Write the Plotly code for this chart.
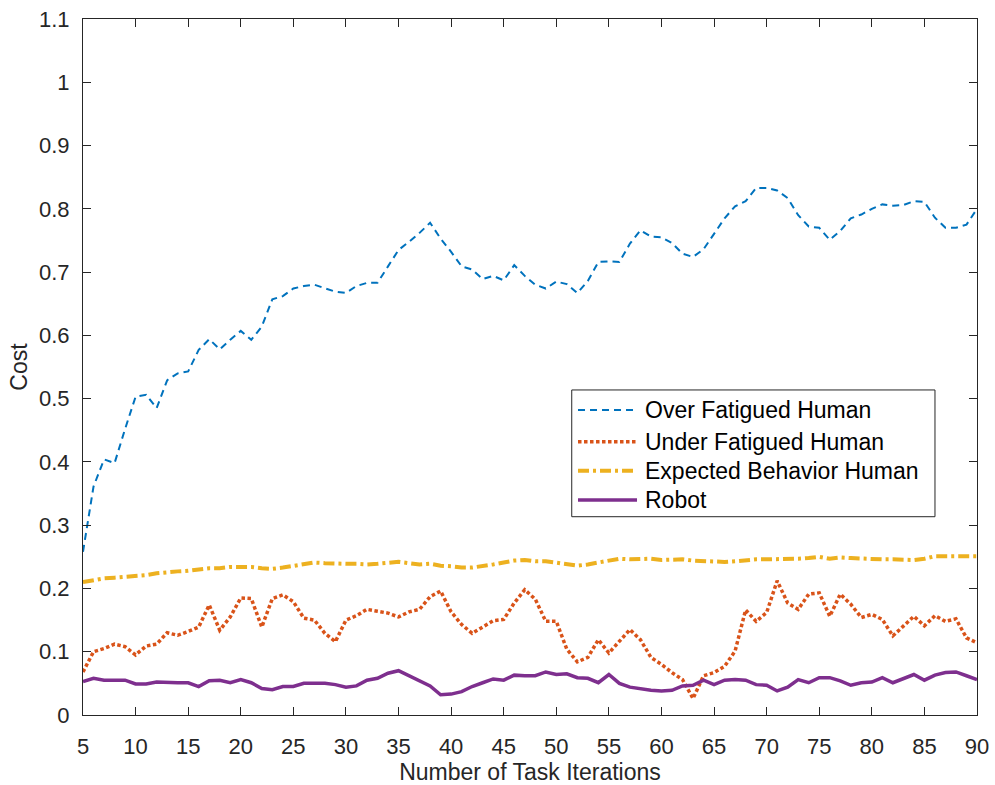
import plotly.graph_objects as go

iterations = list(range(5, 91))

over_fatigued = [
    0.258, 0.361, 0.404, 0.398, 0.452, 0.503, 0.506, 0.485, 0.529, 0.540,
    0.543, 0.577, 0.594, 0.578, 0.593, 0.607, 0.593, 0.614, 0.657, 0.662,
    0.674, 0.678, 0.680, 0.675, 0.669, 0.667, 0.678, 0.683, 0.683, 0.709,
    0.735, 0.748, 0.762, 0.778, 0.753, 0.732, 0.709, 0.704, 0.689, 0.694,
    0.687, 0.711, 0.694, 0.680, 0.674, 0.685, 0.681, 0.667, 0.686, 0.716,
    0.717, 0.716, 0.745, 0.766, 0.756, 0.755, 0.746, 0.729, 0.724, 0.736,
    0.761, 0.785, 0.804, 0.812, 0.833, 0.833, 0.829, 0.817, 0.790, 0.772,
    0.770, 0.751, 0.765, 0.785, 0.791, 0.800, 0.807, 0.805, 0.806, 0.812,
    0.811, 0.786, 0.770, 0.770, 0.775, 0.800,
]

under_fatigued = [
    0.068, 0.100, 0.105, 0.112, 0.108, 0.095, 0.109, 0.112, 0.130, 0.126,
    0.132, 0.139, 0.174, 0.134, 0.155, 0.185, 0.184, 0.139, 0.184, 0.190,
    0.179, 0.153, 0.150, 0.129, 0.116, 0.150, 0.157, 0.167, 0.164, 0.161,
    0.155, 0.163, 0.167, 0.187, 0.196, 0.163, 0.143, 0.129, 0.139, 0.149,
    0.151, 0.177, 0.198, 0.183, 0.148, 0.148, 0.104, 0.084, 0.091, 0.119,
    0.098, 0.117, 0.135, 0.119, 0.091, 0.080, 0.067, 0.056, 0.026, 0.062,
    0.067, 0.077, 0.101, 0.166, 0.148, 0.162, 0.212, 0.177, 0.167, 0.191,
    0.193, 0.156, 0.191, 0.175, 0.154, 0.159, 0.151, 0.125, 0.141, 0.156,
    0.141, 0.157, 0.148, 0.152, 0.122, 0.114,
]

expected_behavior = [
    0.210, 0.213, 0.216, 0.217, 0.218, 0.219, 0.221, 0.224, 0.226, 0.227,
    0.228, 0.230, 0.232, 0.232, 0.234, 0.234, 0.234, 0.232, 0.231, 0.233,
    0.236, 0.238, 0.241, 0.240, 0.239, 0.239, 0.239, 0.238, 0.239, 0.241,
    0.242, 0.240, 0.238, 0.239, 0.236, 0.235, 0.233, 0.233, 0.235, 0.238,
    0.241, 0.244, 0.245, 0.243, 0.243, 0.241, 0.238, 0.236, 0.238, 0.241,
    0.244, 0.247, 0.246, 0.247, 0.247, 0.245, 0.245, 0.246, 0.244, 0.243,
    0.242, 0.242, 0.243, 0.245, 0.246, 0.246, 0.246, 0.246, 0.247, 0.248,
    0.250, 0.247, 0.249, 0.248, 0.247, 0.246, 0.246, 0.246, 0.246, 0.245,
    0.247, 0.251, 0.251, 0.251, 0.251, 0.251,
]

robot = [
    0.053, 0.058, 0.055, 0.055, 0.055, 0.049, 0.049, 0.052, 0.051, 0.051,
    0.051, 0.045, 0.054, 0.055, 0.051, 0.056, 0.051, 0.042, 0.040, 0.045,
    0.045, 0.050, 0.050, 0.050, 0.048, 0.044, 0.046, 0.055, 0.058, 0.066,
    0.070, 0.062, 0.054, 0.046, 0.032, 0.033, 0.037, 0.045, 0.051, 0.057,
    0.055, 0.063, 0.062, 0.062, 0.068, 0.064, 0.065, 0.059, 0.058, 0.051,
    0.064, 0.050, 0.044, 0.041, 0.039, 0.038, 0.039, 0.046, 0.047, 0.055,
    0.048, 0.055, 0.056, 0.055, 0.048, 0.047, 0.038, 0.044, 0.056, 0.051,
    0.059, 0.059, 0.054, 0.047, 0.051, 0.052, 0.059, 0.051, 0.057, 0.064,
    0.055, 0.063, 0.067, 0.068, 0.062, 0.056,
]

x_ticks = list(range(5, 91, 5))
y_ticks = [round(0.1 * i, 1) for i in range(12)]
y_tick_labels = ["0", "0.1", "0.2", "0.3", "0.4", "0.5", "0.6", "0.7", "0.8", "0.9", "1", "1.1"]

series_names = ["Over Fatigued Human", "Under Fatigued Human", "Expected Behavior Human", "Robot"]
series_values = [over_fatigued, under_fatigued, expected_behavior, robot]
series_colors = ["#0072BD", "#D95319", "#EDB120", "#7E2F8E"]
series_widths = [2.0, 3.5, 4.0, 3.5]
series_dash = ["7px,5px", "3.5px,2.5px", "11px,4px,3px,4px", "solid"]

FONT = "Liberation Sans, Arial, Helvetica, sans-serif"
AX = "#262626"

fig = go.Figure()
for name, vals, col, w, d in zip(series_names, series_values, series_colors, series_widths, series_dash):
    fig.add_trace(go.Scatter(
        x=iterations, y=vals, mode="lines", name=name,
        line=dict(color=col, width=w, dash=d),
        showlegend=False,
    ))

# legend drawn as box + line samples + labels (paper coordinates)
legend_box = dict(x0=0.5467, x1=0.9530, y0=0.2849, y1=0.4670)
row_y = [0.4382, 0.3927, 0.3510, 0.3089]
sample_x = (0.5537, 0.6197)
text_x = 0.6264

shapes = [dict(type="rect", xref="paper", yref="paper", **legend_box,
               line=dict(color=AX, width=1), fillcolor="white", layer="above")]
annotations = []
for name, col, w, d, yy in zip(series_names, series_colors, series_widths, series_dash, row_y):
    shapes.append(dict(type="line", xref="paper", yref="paper",
                       x0=sample_x[0], x1=sample_x[1], y0=yy, y1=yy,
                       line=dict(color=col, width=w, dash=d), layer="above"))
    annotations.append(dict(xref="paper", yref="paper", x=text_x, y=yy,
                            xanchor="left", yanchor="middle", text=name,
                            showarrow=False, font=dict(family=FONT, size=23, color="#000000")))

fig.update_layout(
    width=995, height=785,
    margin=dict(l=83, r=18, t=19, b=70, autoexpand=False),
    paper_bgcolor="white", plot_bgcolor="white",
    font=dict(family=FONT, size=22, color=AX),
    shapes=shapes, annotations=annotations,
)

fig.update_xaxes(
    range=[5, 90], tickmode="array", tickvals=x_ticks,
    ticks="inside", ticklen=8, tickwidth=1, tickcolor=AX,
    showline=True, linecolor=AX, linewidth=1, mirror="ticks",
    showgrid=False, zeroline=False,
    tickfont=dict(family=FONT, size=22, color=AX),
    ticklabelstandoff=12,
    title=dict(text="Number of Task Iterations", font=dict(family=FONT, size=23, color=AX), standoff=8),
)
fig.update_yaxes(
    range=[0, 1.1], tickmode="array", tickvals=y_ticks, ticktext=y_tick_labels,
    ticks="inside", ticklen=8, tickwidth=1, tickcolor=AX,
    showline=True, linecolor=AX, linewidth=1, mirror="ticks",
    showgrid=False, zeroline=False,
    tickfont=dict(family=FONT, size=22, color=AX),
    ticklabelstandoff=8,
    title=dict(text="Cost", font=dict(family=FONT, size=23, color=AX), standoff=4),
)

fig.write_html("out.html")
